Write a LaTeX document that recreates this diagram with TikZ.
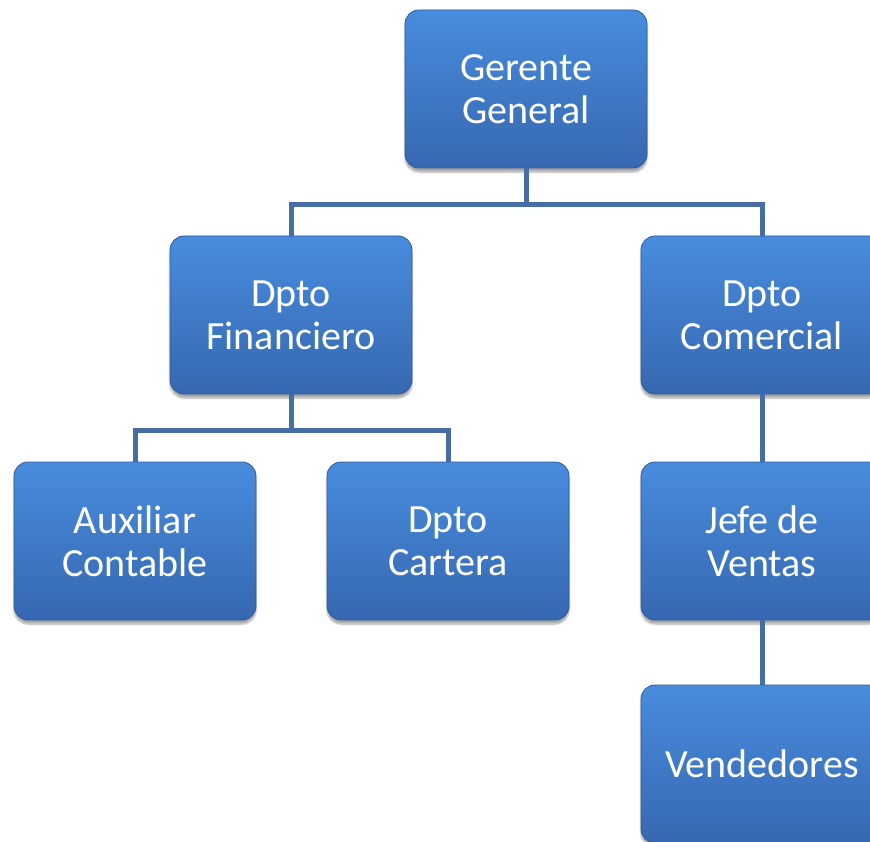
\documentclass[tikz,border=0pt]{standalone}
\usepackage{fontspec}
\setmainfont{Carlito}
\usepackage{tikz}
\usetikzlibrary{calc}
\usetikzlibrary{shadows.blur}
\usetikzlibrary{positioning}

\definecolor{boxtop}{RGB}{72,140,222}
\definecolor{boxbot}{RGB}{54,104,176}
\definecolor{boxline}{RGB}{50,90,150}
\definecolor{linkblue}{RGB}{70,110,165}

\begin{document}
\begin{tikzpicture}[x=1pt, y=-1pt,
      every node/.style = {shape=rectangle, rounded corners=14pt,
        draw=boxline, line width=0.8pt, align=center, text=white,
        font=\fontsize{40}{43}\selectfont,
        minimum width=242pt, minimum height=158pt,
        top color=boxtop, bottom color=boxbot,
        blur shadow={shadow xshift=0pt, shadow yshift=-4pt,
          shadow blur steps=6, shadow opacity=35}},
      link/.style = {draw=linkblue, line width=5pt}]
  \useasboundingbox (0,0) rectangle (870,842);
  \node (gerente) at (526,89) {Gerente\\General};
  \node (financiero) at (291,315) {Dpto\\Financiero};
  \node (comercial) at (762,315) {Dpto\\Comercial};
  \node (auxiliar) at (135,541) {Auxiliar\\Contable};
  \node (cartera) at (448,541) {Dpto\\Cartera};
  \node (jefe) at (762,541) {Jefe de\\Ventas};
  \node (vendedores) at (762,764) {Vendedores};
  % conectores
  \coordinate (fork1) at (526,205);
  \coordinate (fork2) at (291,430);
  \draw[link] (gerente.south) -- (fork1);
  \draw[link] (fork1) -| (financiero.north);
  \draw[link] (fork1) -| (comercial.north);
  \draw[link] (financiero.south) -- (fork2);
  \draw[link] (fork2) -| (auxiliar.north);
  \draw[link] (fork2) -| (cartera.north);
  \draw[link] (comercial) -- (jefe);
  \draw[link] (jefe) -- (vendedores);
\end{tikzpicture}
\end{document}
